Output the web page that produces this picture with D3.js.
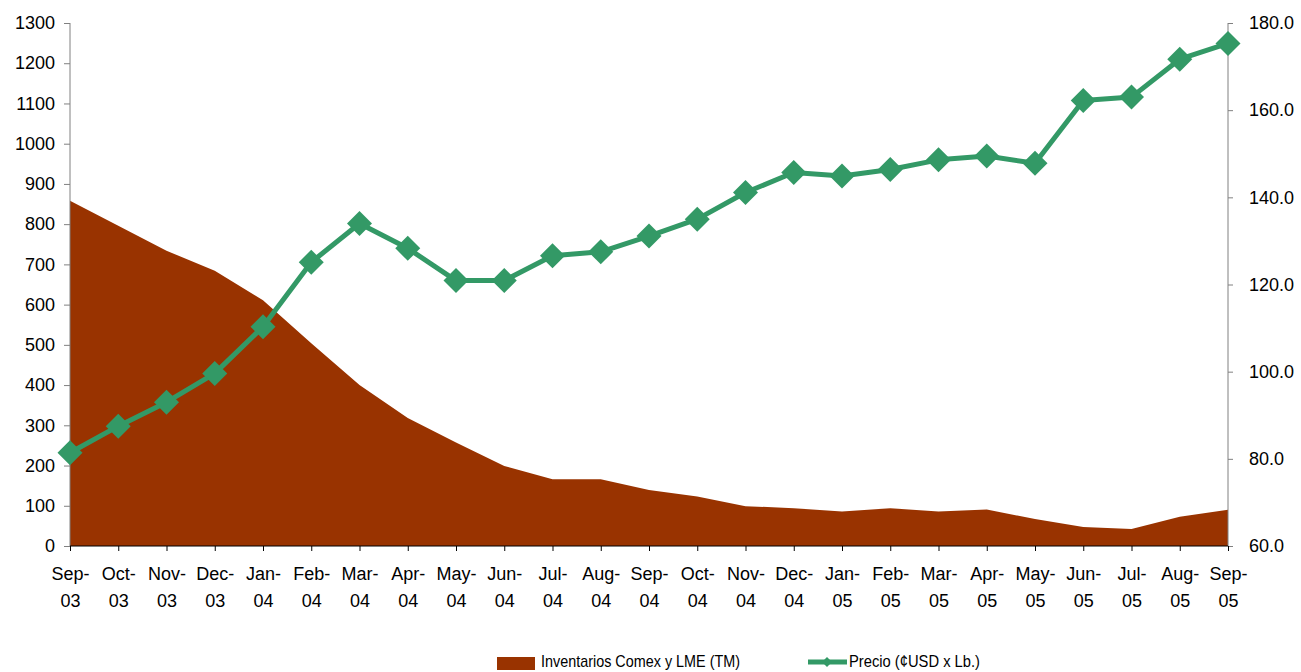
<!DOCTYPE html>
<html>
<head>
<meta charset="utf-8">
<script src="https://cdn.jsdelivr.net/npm/d3@7"></script>
<style>
  body { margin: 0; background: #fff; }
  svg text { font-family: "Liberation Sans", Arial, sans-serif; fill: #000; }
</style>
</head>
<body>
<svg id="chart" width="1301" height="672"></svg>
<script>
// months on the x axis
var months = ["Sep-03","Oct-03","Nov-03","Dec-03","Jan-04","Feb-04","Mar-04","Apr-04","May-04",
  "Jun-04","Jul-04","Aug-04","Sep-04","Oct-04","Nov-04","Dec-04","Jan-05","Feb-05","Mar-05",
  "Apr-05","May-05","Jun-05","Jul-05","Aug-05","Sep-05"];

// Inventarios Comex y LME (TM) - left axis
var inventarios = [858, 796, 734, 684, 611, 504, 400, 318, 257, 199, 166, 166, 139, 123, 99,
  94, 86, 94, 86, 91, 67, 47, 42, 73, 90];

// Precio (cUSD x Lb.) - right axis
var precio = [81.4, 87.5, 93.0, 99.6, 110.3, 125.1, 134.0, 128.3, 120.9, 120.9, 126.6, 127.5,
  131.1, 135.0, 141.1, 145.7, 144.9, 146.4, 148.6, 149.5, 147.8, 162.2, 163.0, 171.7, 175.3];

var leftTicks = d3.range(0, 1301, 100);
var rightTicks = [60, 80, 100, 120, 140, 160, 180];

var svg = d3.select("#chart");
var x0 = 70, x1 = 1228, yBottom = 546, yTop = 23;
var fs = "18px";

var x = d3.scalePoint().domain(months).range([x0, x1]);
var yL = d3.scaleLinear().domain([0, 1300]).range([yBottom, yTop]);
var yR = d3.scaleLinear().domain([60, 180]).range([yBottom, yTop]);

var areaColor = "#993300", lineColor = "#339966";

// area
var area = d3.area()
  .x(function(d, i) { return x(months[i]); })
  .y0(yBottom)
  .y1(function(d) { return yL(d); });
svg.append("path")
  .datum(inventarios)
  .attr("d", area)
  .attr("fill", areaColor);

// left axis
var gL = svg.append("g")
  .attr("transform", "translate(" + x0 + ",0)")
  .call(d3.axisLeft(yL).tickValues(leftTicks).tickSize(6).tickPadding(9).tickFormat(d3.format("d")));
gL.selectAll("path, line").attr("stroke", "#808080");
gL.selectAll("text").style("font-size", fs);
gL.select(".domain").attr("d", "M0," + yTop + "V" + yBottom);

// right axis
var gR = svg.append("g")
  .attr("transform", "translate(" + x1 + ",0)")
  .call(d3.axisRight(yR).tickValues(rightTicks).tickSize(5).tickPadding(16).tickFormat(d3.format(".1f")));
gR.selectAll("path, line").attr("stroke", "#808080");
gR.selectAll("text").style("font-size", fs);
gR.select(".domain").attr("d", "M0," + yTop + "V" + yBottom);

// x axis
var gX = svg.append("g")
  .attr("transform", "translate(0," + yBottom + ")")
  .call(d3.axisBottom(x).tickSize(5).tickFormat(""));
gX.selectAll("path, line").attr("stroke", "#000");
gX.select(".domain").attr("d", "M" + x0 + ",0H" + x1);

var lbl = gX.selectAll(".tick").append("text")
  .attr("text-anchor", "middle")
  .style("font-size", fs);
lbl.append("tspan").attr("x", 0).attr("y", 34).text(function(d) { return d.split("-")[0] + "-"; });
lbl.append("tspan").attr("x", 0).attr("y", 61).text(function(d) { return d.split("-")[1]; });

// price line
var line = d3.line()
  .x(function(d, i) { return x(months[i]); })
  .y(function(d) { return yR(d); });
svg.append("path")
  .datum(precio)
  .attr("d", line)
  .attr("fill", "none")
  .attr("stroke", lineColor)
  .attr("stroke-width", 5)
  .attr("stroke-linejoin", "round");

function diamond(r) { return "M0," + (-r) + "L" + r + ",0L0," + r + "L" + (-r) + ",0Z"; }

svg.append("g").selectAll("path")
  .data(precio)
  .enter()
  .append("path")
    .attr("transform", function(d, i) { return "translate(" + x(months[i]) + "," + yR(d) + ")"; })
    .attr("d", diamond(12.5))
    .attr("fill", lineColor);

// legend (kept inside the bottom edge)
var leg = svg.append("g");
leg.append("rect").attr("x", 497).attr("y", 657).attr("width", 38).attr("height", 13).attr("fill", areaColor);
leg.append("text").attr("x", 541).attr("y", 667).style("font-size", "17px")
  .attr("textLength", 199).attr("lengthAdjust", "spacingAndGlyphs")
  .text("Inventarios Comex y LME (TM)");
leg.append("line").attr("x1", 808).attr("x2", 847).attr("y1", 662).attr("y2", 662)
  .attr("stroke", lineColor).attr("stroke-width", 5);
leg.append("path").attr("transform", "translate(827,662)").attr("d", diamond(5)).attr("fill", lineColor);
leg.append("text").attr("x", 849).attr("y", 667).style("font-size", "17px")
  .attr("textLength", 131).attr("lengthAdjust", "spacingAndGlyphs")
  .text("Precio (¢USD x Lb.)");
</script>
</body>
</html>
